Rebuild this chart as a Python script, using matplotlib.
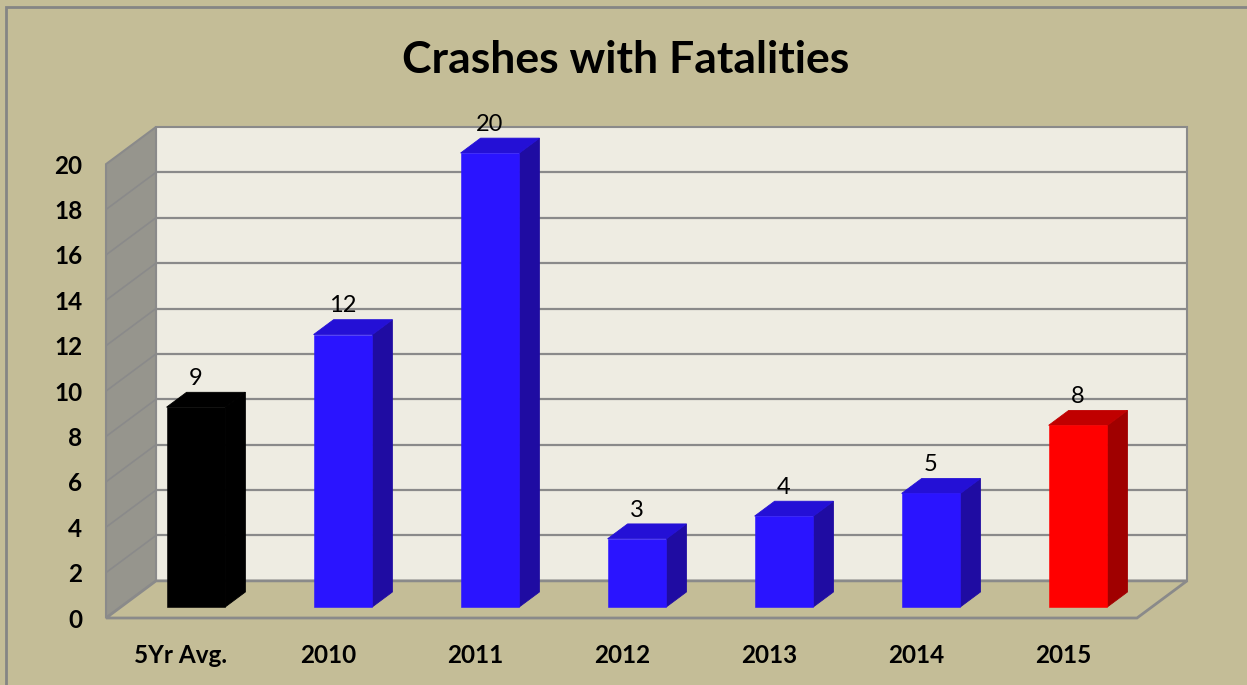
import matplotlib
matplotlib.use("Agg")
import matplotlib.pyplot as plt
from matplotlib.patches import Polygon, Rectangle

plt.rcParams['font.family'] = ['Lato', 'DejaVu Sans']

categories = ["5Yr Avg.", "2010", "2011", "2012", "2013", "2014", "2015"]
values = [8.8, 12, 20, 3, 4, 5, 8]
labels = ["9", "12", "20", "3", "4", "5", "8"]
yticks = [0, 2, 4, 6, 8, 10, 12, 14, 16, 18, 20]

front_col = ["#000000", "#2A14FF", "#2A14FF", "#2A14FF", "#2A14FF", "#2A14FF", "#FF0000"]
side_col = ["#000000", "#1F0CA2", "#1F0CA2", "#1F0CA2", "#1F0CA2", "#1F0CA2", "#A00000"]
top_col = ["#000000", "#2410D6", "#2410D6", "#2410D6", "#2410D6", "#2410D6", "#C00000"]

bg = "#C4BD97"
wall = "#EEECE2"
lwall = "#96958D"
grid = "#8A8A8A"

# depth offset of the 3d box (data units)
DX, DY = 0.340, 1.637
f1, f2 = 0.3, 0.7   # bar front / back depth
w = 0.2
x0, xr = -0.510, 6.503
ymax = max(yticks)

fig = plt.figure(figsize=(12.47, 6.85), dpi=100, facecolor=bg)
ax = fig.add_axes([106/1247, 67/685, 1081/1247, 491/685])
ax.set_facecolor("none")
ax.set_xlim(x0, xr + DX)
ax.set_ylim(0, ymax + DY)

# walls and floor
ax.add_patch(Polygon([(x0 + DX, DY), (xr + DX, DY), (xr + DX, ymax + DY), (x0 + DX, ymax + DY)],
                     closed=True, fc=wall, ec=grid, lw=1.5, clip_on=False, zorder=1))
ax.add_patch(Polygon([(x0, 0), (x0, ymax), (x0 + DX, ymax + DY), (x0 + DX, DY)],
                     closed=True, fc=lwall, ec=grid, lw=1.5, clip_on=False, zorder=1))
ax.add_patch(Polygon([(x0, 0), (xr, 0), (xr + DX, DY), (x0 + DX, DY)],
                     closed=True, fc=bg, ec=grid, lw=2, clip_on=False, zorder=1))
for t in yticks[1:-1]:
    ax.plot([x0 + DX, xr + DX], [t + DY, t + DY], color=grid, lw=1.6, zorder=2, solid_capstyle="butt")
    ax.plot([x0, x0 + DX], [t, t + DY], color=grid, lw=1.2, zorder=2)

# bars
for i, v in enumerate(values):
    xa = i + f1 * DX
    xb = i + f2 * DX
    ya, yb = f1 * DY, f2 * DY
    ax.add_patch(Polygon([(xa + w, ya), (xb + w, yb), (xb + w, v + yb), (xa + w, v + ya)],
                         closed=True, fc=side_col[i], ec=side_col[i], lw=0.6, zorder=3))
    ax.add_patch(Polygon([(xa - w, v + ya), (xa + w, v + ya), (xb + w, v + yb), (xb - w, v + yb)],
                         closed=True, fc=top_col[i], ec=top_col[i], lw=0.6, zorder=3))
    ax.add_patch(Rectangle((xa - w, ya), 2 * w, v, fc=front_col[i], ec=front_col[i], lw=0.4, zorder=4))
    ax.text(xa, v + yb + 0.15, labels[i], ha="center", va="bottom", fontsize=17, zorder=5)

ax.set_xticks(range(len(categories)))
ax.set_xticklabels(categories, fontsize=17.5, fontweight="bold")
ax.set_yticks(yticks)
ax.set_yticklabels([str(t) for t in yticks], fontsize=17.5, fontweight="bold")
ax.tick_params(length=0)
ax.tick_params(axis="x", pad=19)
ax.tick_params(axis="y", pad=17)
for s in ax.spines.values():
    s.set_visible(False)

fig.text(0.502, 1 - 60/685, "Crashes with Fatalities", ha="center", va="center",
         fontsize=32, fontweight="bold")

fig.add_artist(Rectangle((6/1247, -0.1), 1.2, 678/685 + 0.1, transform=fig.transFigure,
                         fill=False, ec="#858585", lw=2))

fig.savefig("out.png", dpi=100, facecolor=bg)
